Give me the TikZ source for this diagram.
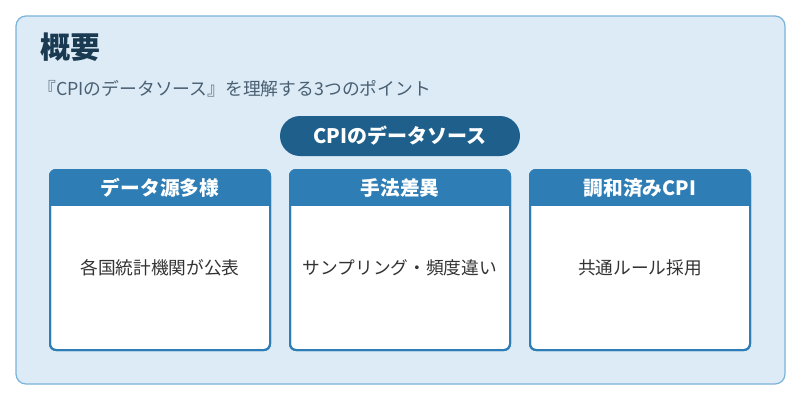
\documentclass[tikz,border=0pt]{standalone}
\usepackage{fontspec}
\setmainfont{Noto Sans CJK JP}
\begin{document}
\begin{tikzpicture}[x=1pt,y=-1pt,
  card/.style={draw=hdr,line width=2pt,rounded corners=6pt,fill=white},
  body/.style={font=\fontsize{17.7}{20}\selectfont,text=txt}]
\definecolor{bg}{HTML}{DCEBF6}\definecolor{bd}{HTML}{7AB3D9}
\definecolor{hdr}{HTML}{2E7DB5}\definecolor{pill}{HTML}{1F5F8B}
\definecolor{txt}{HTML}{333333}\definecolor{ttl}{HTML}{1A3A52}\definecolor{sub}{HTML}{4A6072}
\useasboundingbox (0,0) rectangle (800,400);
\fill[white] (0,0) rectangle (800,400);
\draw[draw=bd,fill=bg,line width=1.2pt,rounded corners=10pt] (16,16) rectangle (785,384);
\node[anchor=west,text=ttl,font=\fontsize{30}{34}\selectfont\bfseries,inner sep=0pt] (title) at (40,47) {概要};
\node[anchor=west,text=sub,font=\fontsize{17.8}{20}\selectfont,inner sep=0pt] (subtitle) at (38,89) {『CPIのデータソース』を理解する3つのポイント};
\node[fill=pill,rounded corners=20pt,minimum width=240pt,minimum height=40pt,text=white,font=\fontsize{20}{23}\selectfont\bfseries] (pillnode) at (400,136) {CPIのデータソース};
\foreach \i/\x/\h/\b in {1/50/データ源多様/各国統計機関が公表, 2/290/手法差異/サンプリング・頻度違い, 3/530/調和済みCPI/共通ルール採用}{
  \draw[card] (\x,170) rectangle (\x+220,350);
  \begin{scope}
    \clip[rounded corners=6pt] (\x,170) rectangle (\x+220,350);
    \fill[hdr] (\x,170) rectangle (\x+220,206);
  \end{scope}
  \draw[hdr,line width=2pt,rounded corners=6pt] (\x,170) rectangle (\x+220,350);
  \node[text=white,font=\fontsize{19.7}{22}\selectfont\bfseries] (h\i) at (\x+110,188) {\h};
  \node[body] (b\i) at (\x+110,268) {\b};
}
\end{tikzpicture}
\end{document}
